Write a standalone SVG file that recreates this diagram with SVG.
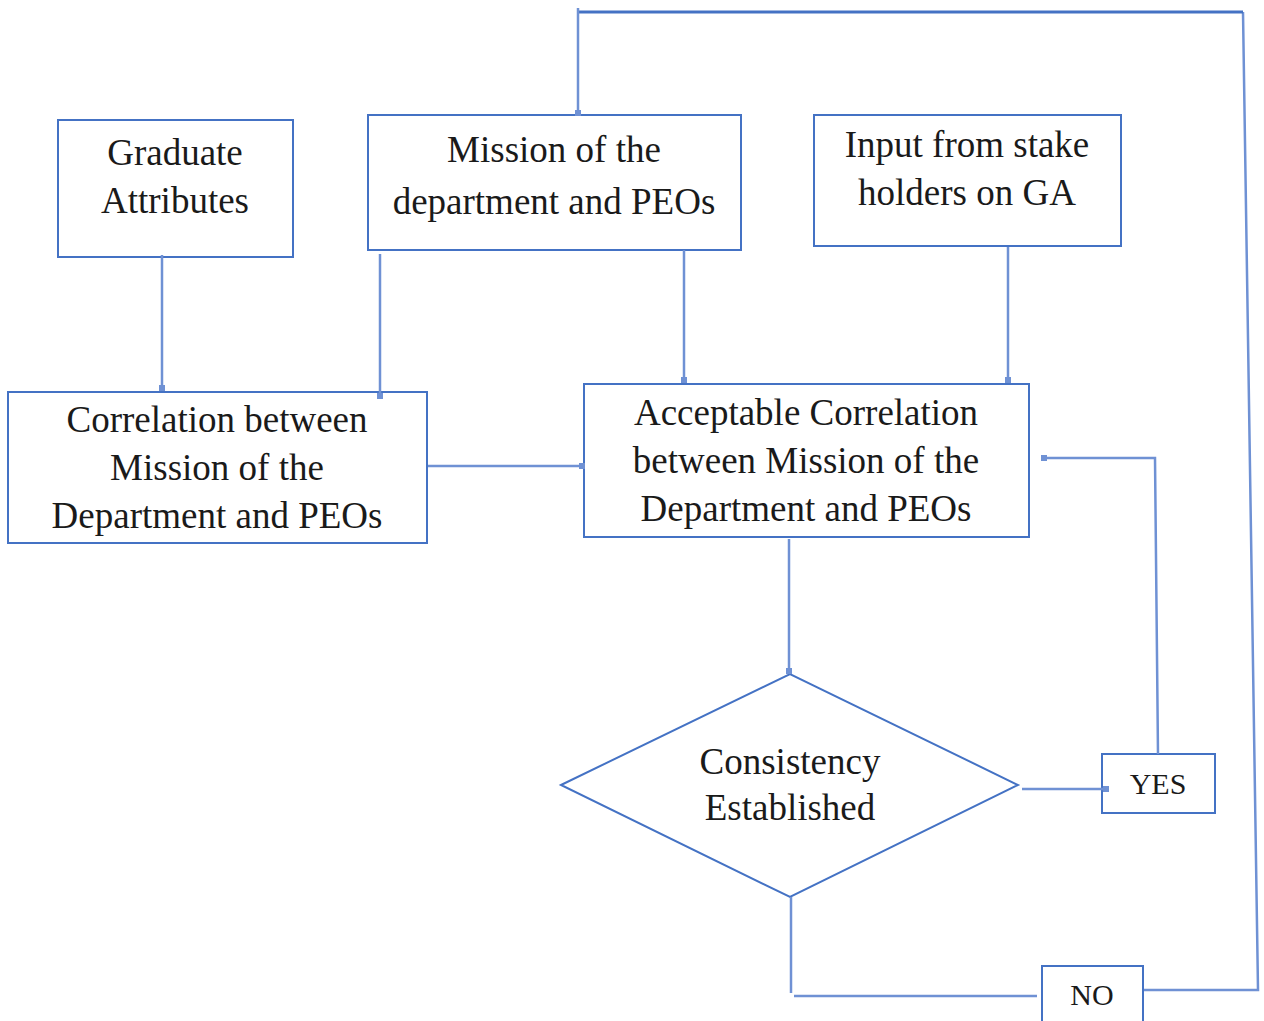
<svg xmlns="http://www.w3.org/2000/svg" width="1264" height="1021" viewBox="0 0 1264 1021">
<style>
.box{fill:#fff;stroke:#4472C4;stroke-width:2}
.t{font-family:"Liberation Serif","Times New Roman",serif;font-size:37px;fill:#1a1a1a;text-anchor:middle}
.s{font-family:"Liberation Serif","Times New Roman",serif;font-size:30px;fill:#1a1a1a;text-anchor:middle}
.c{fill:none;stroke:#6F91D4;stroke-width:2.5}
.d{fill:none;stroke:#4472C4;stroke-width:3}
</style>
<defs>
<marker id="sq" viewBox="0 0 6 6" refX="3" refY="3" markerWidth="6" markerHeight="6" markerUnits="userSpaceOnUse" orient="auto">
<rect x="0" y="0" width="6" height="6" fill="#6F91D4"/>
</marker>
</defs>
<g id="graduate">
<rect class="box" x="58" y="120" width="235" height="137"/>
<text class="t" x="175" y="165">Graduate</text>
<text class="t" x="175" y="213">Attributes</text>
</g>
<g id="mission">
<rect class="box" x="368" y="115" width="373" height="135"/>
<text class="t" x="554" y="162">Mission of the</text>
<text class="t" x="554" y="214">department and PEOs</text>
</g>
<g id="input">
<rect class="box" x="814" y="115" width="307" height="131"/>
<text class="t" x="967" y="157">Input from stake</text>
<text class="t" x="967" y="205">holders on GA</text>
</g>
<g id="correlation">
<rect class="box" x="8" y="392" width="419" height="151"/>
<text class="t" x="217" y="432">Correlation between</text>
<text class="t" x="217" y="480">Mission of the</text>
<text class="t" x="217" y="528">Department and PEOs</text>
</g>
<g id="acceptable">
<rect class="box" x="584" y="384" width="445" height="153"/>
<text class="t" x="806" y="425">Acceptable Correlation</text>
<text class="t" x="806" y="473">between Mission of the</text>
<text class="t" x="806" y="521">Department and PEOs</text>
</g>
<g id="consistency">
<polygon class="box" points="561,785 790,674 1018,785 790,897"/>
<text class="t" x="790" y="774">Consistency</text>
<text class="t" x="790" y="820">Established</text>
</g>
<g id="yes">
<rect class="box" x="1102" y="754" width="113" height="59"/>
<text class="s" x="1158" y="794">YES</text>
</g>
<g id="no">
<rect class="box" x="1042" y="966" width="101" height="60"/>
<text class="s" x="1092" y="1005">NO</text>
</g>
<g id="connectors">
<path class="c" d="M162,255 V388" marker-end="url(#sq)"/>
<path class="c" d="M380,254 V396" marker-end="url(#sq)"/>
<path class="c" d="M684,250 V380" marker-end="url(#sq)"/>
<path class="c" d="M1008,247 V380" marker-end="url(#sq)"/>
<path class="c" d="M428,466 H582" marker-end="url(#sq)"/>
<path class="c" d="M789,539 V671" marker-end="url(#sq)"/>
<path class="c" d="M1022,789 H1106" marker-end="url(#sq)"/>
<path class="c" d="M1158,754 L1155,458 H1044" marker-end="url(#sq)"/>
<path class="c" d="M791,897 V993"/>
<path class="c" d="M794,996 H1037"/>
<path class="c" d="M1144,990 H1258 L1243,12"/>
<path class="d" d="M578,12 H1243"/>
<path class="c" d="M578,8 V113" marker-end="url(#sq)"/>
</g>
</svg>
